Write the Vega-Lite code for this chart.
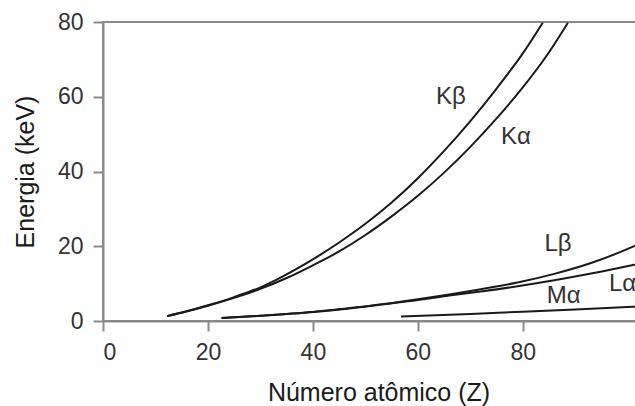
{
  "$schema": "https://vega.github.io/schema/vega-lite/v6.json",
  "autosize": {"type": "none"},
  "padding": {"left": 103, "top": 22, "right": 0, "bottom": 85},
  "width": 551,
  "height": 299,
  "background": "white",
  "config": {
    "font": "Liberation Sans",
    "view": {"stroke": "#8a8a8a", "strokeWidth": 2},
    "axis": {
      "grid": false,
      "domainColor": "#8a8a8a",
      "domainWidth": 2,
      "tickColor": "#8a8a8a",
      "tickWidth": 2,
      "tickSize": 10
    }
  },
  "datasets": {
    "curves": [
      {"s": "Kb", "Z": 12.2, "E": 1.3}, {"s": "Kb", "Z": 16, "E": 2.6}, {"s": "Kb", "Z": 20, "E": 4.2}, {"s": "Kb", "Z": 25, "E": 6.4}, {"s": "Kb", "Z": 30, "E": 9.0}, {"s": "Kb", "Z": 35, "E": 12.5}, {"s": "Kb", "Z": 40, "E": 16.5}, {"s": "Kb", "Z": 45, "E": 21.0}, {"s": "Kb", "Z": 50, "E": 26.0}, {"s": "Kb", "Z": 55, "E": 31.7}, {"s": "Kb", "Z": 60, "E": 38.2}, {"s": "Kb", "Z": 65, "E": 45.5}, {"s": "Kb", "Z": 70, "E": 53.5}, {"s": "Kb", "Z": 75, "E": 62.2}, {"s": "Kb", "Z": 80.2, "E": 72.0}, {"s": "Kb", "Z": 83.8, "E": 79.8},
      {"s": "Ka", "Z": 12.2, "E": 1.3}, {"s": "Ka", "Z": 16, "E": 2.6}, {"s": "Ka", "Z": 20, "E": 4.1}, {"s": "Ka", "Z": 25, "E": 6.2}, {"s": "Ka", "Z": 30, "E": 8.6}, {"s": "Ka", "Z": 35, "E": 11.5}, {"s": "Ka", "Z": 40, "E": 14.9}, {"s": "Ka", "Z": 45, "E": 18.6}, {"s": "Ka", "Z": 50, "E": 23.0}, {"s": "Ka", "Z": 55, "E": 28.0}, {"s": "Ka", "Z": 60, "E": 33.5}, {"s": "Ka", "Z": 65, "E": 39.7}, {"s": "Ka", "Z": 70, "E": 46.6}, {"s": "Ka", "Z": 75, "E": 54.2}, {"s": "Ka", "Z": 80, "E": 62.5}, {"s": "Ka", "Z": 84.8, "E": 71.5}, {"s": "Ka", "Z": 88.6, "E": 79.8},
      {"s": "Lb", "Z": 22.6, "E": 0.8}, {"s": "Lb", "Z": 30, "E": 1.4}, {"s": "Lb", "Z": 40, "E": 2.4}, {"s": "Lb", "Z": 50, "E": 3.9}, {"s": "Lb", "Z": 60, "E": 5.8}, {"s": "Lb", "Z": 66, "E": 7.1}, {"s": "Lb", "Z": 72, "E": 8.5}, {"s": "Lb", "Z": 79, "E": 10.3}, {"s": "Lb", "Z": 86, "E": 12.6}, {"s": "Lb", "Z": 93, "E": 15.5}, {"s": "Lb", "Z": 101, "E": 19.9}, {"s": "Lb", "Z": 104, "E": 21.8},
      {"s": "La", "Z": 22.6, "E": 0.8}, {"s": "La", "Z": 30, "E": 1.4}, {"s": "La", "Z": 40, "E": 2.4}, {"s": "La", "Z": 50, "E": 3.9}, {"s": "La", "Z": 60, "E": 5.6}, {"s": "La", "Z": 66, "E": 6.8}, {"s": "La", "Z": 72, "E": 7.9}, {"s": "La", "Z": 79, "E": 9.3}, {"s": "La", "Z": 86, "E": 10.9}, {"s": "La", "Z": 93, "E": 12.7}, {"s": "La", "Z": 101, "E": 15.0}, {"s": "La", "Z": 104, "E": 15.9},
      {"s": "Ma", "Z": 56.8, "E": 1.2}, {"s": "Ma", "Z": 70, "E": 1.9}, {"s": "Ma", "Z": 80, "E": 2.5}, {"s": "Ma", "Z": 90, "E": 3.1}, {"s": "Ma", "Z": 101, "E": 3.8}, {"s": "Ma", "Z": 104, "E": 4.0}
    ],
    "labels": [
      {"t": "Kβ", "Z": 66.3, "E": 59.9},
      {"t": "Kα", "Z": 78.7, "E": 49.2},
      {"t": "Lβ", "Z": 86.7, "E": 20.6},
      {"t": "Mα", "Z": 87.8, "E": 6.7},
      {"t": "Lα", "Z": 99.0, "E": 9.9}
    ]
  },
  "layer": [
    {
      "data": {"name": "curves"},
      "mark": {"type": "line", "color": "#1a1a1a", "strokeWidth": 2, "interpolate": "monotone", "clip": true},
      "encoding": {
        "x": {"field": "Z", "type": "quantitative", "scale": {"domain": [0, 105], "nice": false},
          "axis": {"values": [0, 20, 40, 60, 80], "title": "Número atômico (Z)", "labelPadding": 10, "titlePadding": 16,
            "labelFont": "Liberation Sans", "labelFontSize": 23, "labelColor": "#333333",
            "titleFont": "Liberation Sans", "titleFontSize": 25, "titleFontWeight": "normal", "titleColor": "#1a1a1a"}},
        "y": {"field": "E", "type": "quantitative", "scale": {"domain": [0, 80], "nice": false},
          "axis": {"values": [0, 20, 40, 60, 80], "title": "Energia (keV)", "labelPadding": 10, "titlePadding": 19,
            "labelFont": "Liberation Sans", "labelFontSize": 23, "labelColor": "#333333",
            "titleFont": "Liberation Sans", "titleFontSize": 25, "titleFontWeight": "normal", "titleColor": "#1a1a1a"}},
        "detail": {"field": "s", "type": "nominal"}
      }
    },
    {
      "data": {"name": "labels"},
      "mark": {"type": "text", "font": "Liberation Sans", "fontSize": 24, "color": "#333333", "baseline": "middle", "align": "center"},
      "encoding": {
        "x": {"field": "Z", "type": "quantitative"},
        "y": {"field": "E", "type": "quantitative"},
        "text": {"field": "t"}
      }
    }
  ]
}
